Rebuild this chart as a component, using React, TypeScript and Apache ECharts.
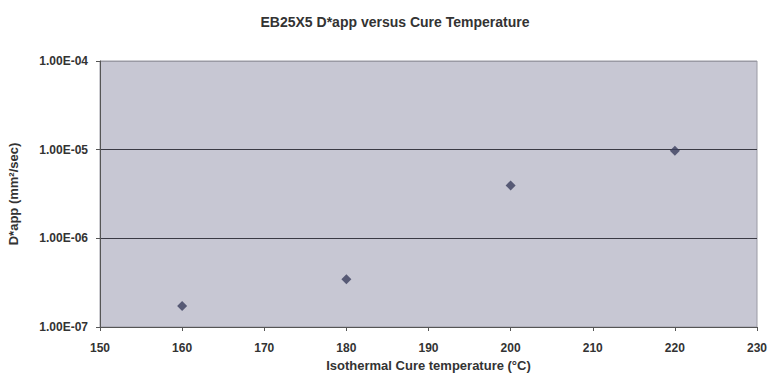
import React, { useEffect, useRef } from "react";
import * as echarts from "echarts";

const temperatures = [160, 180, 200, 220];
const dApp = [1.73e-7, 3.45e-7, 3.95e-6, 9.75e-6];
const titleText = "EB25X5 D*app versus Cure Temperature";
const xName = "Isothermal Cure temperature (°C)";
const yName = "D*app (mm²/sec)";

const fmtExp = (v: number) => {
  const e = Math.round(Math.log10(v));
  const m = v / Math.pow(10, e);
  const sign = e < 0 ? "-" : "+";
  const abs = Math.abs(e);
  return m.toFixed(2) + "E" + sign + (abs < 10 ? "0" + abs : String(abs));
};

export default function App() {
  const ref = useRef<HTMLDivElement>(null);
  useEffect(() => {
    if (!ref.current) return;
    const chart = echarts.init(ref.current, undefined, { renderer: "svg" });
    const font = "'Liberation Sans', Arial, sans-serif";
    chart.setOption({
      animation: false,
      backgroundColor: "#ffffff",
      title: {
        text: titleText,
        left: 390,
        textAlign: "center",
        top: 10,
        textStyle: { fontFamily: font, fontSize: 14, fontWeight: "bold", color: "#333333" },
      },
      grid: {
        left: 100,
        right: 16,
        top: 61,
        bottom: 56,
        outerBoundsMode: "none",
        containLabel: false,
        show: true,
        backgroundColor: "#c7c7d3",
        borderColor: "#9a9aa4",
        borderWidth: 1,
      },
      xAxis: {
        type: "value",
        min: 150,
        max: 230,
        interval: 10,
        name: xName,
        nameLocation: "middle",
        nameGap: 32,
        nameTextStyle: { fontFamily: font, fontSize: 13, fontWeight: "bold", color: "#333333" },
        axisLine: { show: true, onZero: false, lineStyle: { color: "#555555", width: 1 } },
        axisTick: { show: true, length: 4, lineStyle: { color: "#555555" } },
        axisLabel: { fontFamily: font, fontSize: 12, fontWeight: "bold", color: "#333333", margin: 15 },
        splitLine: { show: false },
      },
      yAxis: {
        type: "log",
        logBase: 10,
        min: 1e-7,
        max: 1e-4,
        name: yName,
        nameLocation: "middle",
        nameGap: 80,
        nameTextStyle: { fontFamily: font, fontSize: 13, fontWeight: "bold", color: "#333333" },
        axisLine: { show: true, lineStyle: { color: "#555555", width: 1 } },
        axisTick: { show: true, length: 4, lineStyle: { color: "#555555" } },
        axisLabel: {
          fontFamily: font,
          fontSize: 12,
          fontWeight: "bold",
          color: "#333333",
          margin: 12,
          formatter: (v: number) => fmtExp(v),
        },
        splitLine: { show: true, lineStyle: { color: ["#9a9aa4", "#3a3a44", "#3a3a44", "#9a9aa4"], width: 1 } },
      },
      series: [
        {
          type: "scatter",
          data: temperatures.map((t, i) => [t, dApp[i]]),
          symbol: "diamond",
          symbolSize: 10,
          itemStyle: { color: "#3b3f5e" },
        },
      ],
    });
    return () => chart.dispose();
  }, []);
  return <div ref={ref} style={{ position: "fixed", left: 0, top: 0, width: 773, height: 383 }} />;
}
